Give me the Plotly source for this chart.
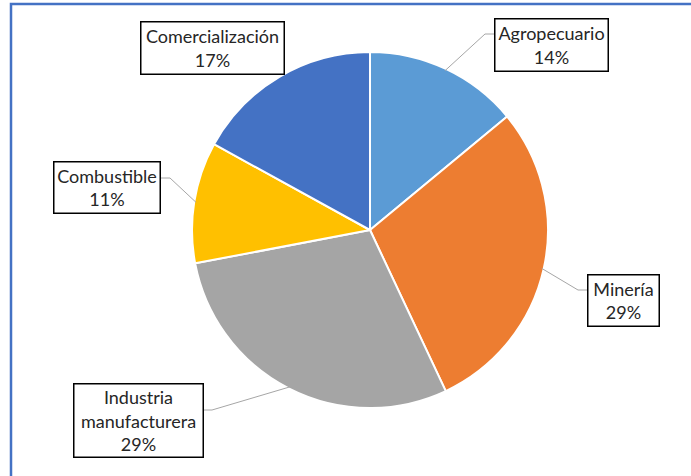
import math
import plotly.graph_objects as go

# Distribución por sector (%)
sectores = ["Agropecuario", "Minería", "Industria manufacturera", "Combustible", "Comercialización"]
porcentajes = [14, 29, 29, 11, 17]
etiquetas = ["Agropecuario", "Minería", "Industria<br>manufacturera", "Combustible", "Comercialización"]
colores = ["#5B9BD5", "#ED7D31", "#A5A5A5", "#FFC000", "#4472C4"]

W, H = 691, 476
CX, CY, R = 370, 230, 178  # pie centre and radius in pixels


def px(x):
    return x / W


def py(y):
    return 1 - y / H


# label boxes: centre x, centre y, width, height (pixels)
cajas = [
    (551, 45, 114, 53),
    (623, 300, 72, 52),
    (138, 420, 130, 74),
    (106.5, 188, 107, 52),
    (212, 48.5, 144, 53),
]
# leader line: elbow point and box attachment point (pixels); None = no line
guias = [
    ((485, 34), (494, 34)),
    ((578, 290), (587, 290)),
    ((212, 410), (203, 410)),
    ((170, 178), (160, 178)),
    None,
]

fig = go.Figure(
    go.Pie(
        labels=sectores,
        values=porcentajes,
        sort=False,
        direction="clockwise",
        rotation=0,
        marker=dict(colors=colores, line=dict(color="white", width=2)),
        textinfo="none",
        hoverinfo="label+percent",
        showlegend=False,
        domain=dict(x=[px(CX - R), px(CX + R)], y=[py(CY + R), py(CY - R)]),
    )
)

total = sum(porcentajes)
acum = 0
shapes = []
annotations = []
for nombre, val, cap, caja, guia in zip(sectores, porcentajes, etiquetas, cajas, guias):
    medio = (acum + val / 2) / total * 2 * math.pi
    acum += val
    ex = CX + (R - 2) * math.sin(medio)
    ey = CY - (R - 2) * math.cos(medio)
    if guia is not None:
        (bx, by), (ax, ay) = guia
        shapes.append(
            dict(
                type="path",
                xref="paper",
                yref="paper",
                path=f"M {px(ex)} {py(ey)} L {px(bx)} {py(by)} L {px(ax)} {py(ay)}",
                line=dict(color="#A6A6A6", width=1),
            )
        )
    cx, cy, bw, bh = caja
    annotations.append(
        dict(
            x=px(cx),
            y=py(cy),
            xref="paper",
            yref="paper",
            xanchor="center",
            yanchor="middle",
            text=f"{cap}<br>{round(val / total * 100)}%",
            showarrow=False,
            align="center",
            width=bw - 2,
            height=bh - 2,
            borderpad=0,
            bordercolor="black",
            borderwidth=1.5,
            bgcolor="white",
            font=dict(family="Lato, Carlito, sans-serif", size=18, color="#262626"),
        )
    )

# outer frame
shapes.append(
    dict(
        type="rect",
        xref="paper",
        yref="paper",
        x0=px(11),
        y0=py(4),
        x1=1.1,
        y1=-0.1,
        line=dict(color="#4472C4", width=2.5),
        fillcolor="rgba(0,0,0,0)",
    )
)

fig.update_layout(
    width=W,
    height=H,
    margin=dict(l=0, r=0, t=0, b=0),
    paper_bgcolor="white",
    plot_bgcolor="white",
    shapes=shapes,
    annotations=annotations,
)

fig.write_html("out.html")
